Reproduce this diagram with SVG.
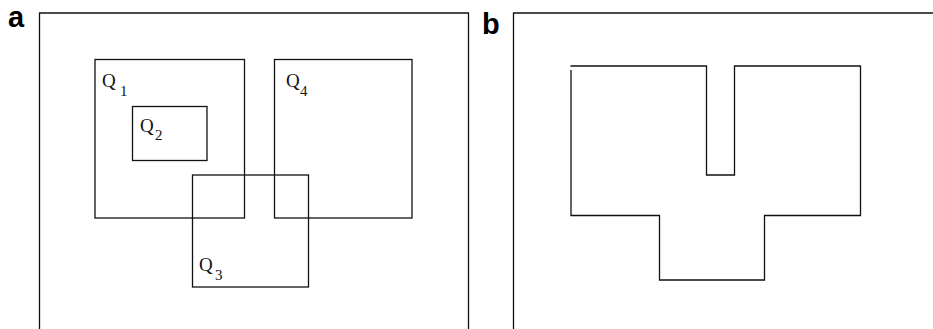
<svg xmlns="http://www.w3.org/2000/svg" width="933" height="329" viewBox="0 0 933 329">
<style>
.ln{fill:none;stroke:#111;stroke-width:1.3}
.q{font-family:"Liberation Serif",serif;font-size:19px;fill:#111}
.s{font-family:"Liberation Serif",serif;font-size:15px;fill:#111}
.p{font-family:"Liberation Sans",Arial,sans-serif;font-size:29px;font-weight:bold;fill:#000}
</style>
<rect width="933" height="329" fill="#fff"/>
<g id="panel-a">
<text class="p" x="8" y="27">a</text>
<path class="ln" d="M39.5,329 V13 H468.5 V329"/>
<g id="Q1"><rect class="ln" x="95" y="59.5" width="149.5" height="158.5"/><text class="q" x="102" y="87">Q</text><text class="s" x="120" y="96">1</text></g>
<g id="Q2"><rect class="ln" x="132.5" y="106.5" width="74.5" height="54"/><text class="q" x="140" y="132">Q</text><text class="s" x="155" y="140">2</text></g>
<g id="Q4"><rect class="ln" x="274.5" y="59.5" width="137.5" height="158.5"/><text class="q" x="286" y="87">Q</text><text class="s" x="300" y="96">4</text></g>
<g id="Q3"><rect class="ln" x="192.5" y="175" width="116" height="112"/><text class="q" x="199" y="271">Q</text><text class="s" x="215" y="280">3</text></g>
</g>
<g id="panel-b">
<text class="p" x="482" y="34">b</text>
<path class="ln" d="M513.5,329 V13 H933"/>
<path class="ln" d="M570.5,66 H706.5 V175 H734.5 V66 H860.5 V215.5 H764.5 V280 H659.5 V215.5 H571 V70"/>
</g>
</svg>
